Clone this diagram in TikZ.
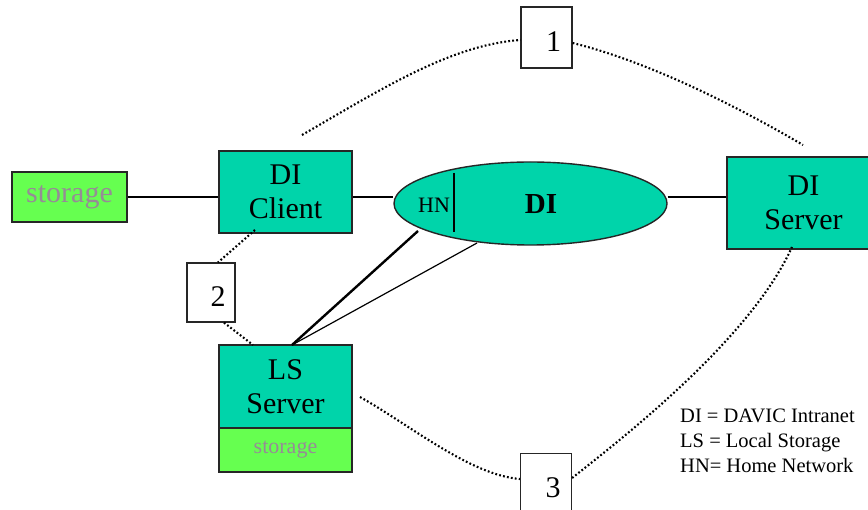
\documentclass[tikz,border=0pt]{standalone}
\usepackage{fontspec}
\setmainfont{Liberation Serif}
\usetikzlibrary{shapes.geometric,calc}
\definecolor{teal1}{RGB}{0,212,170}
\definecolor{green1}{RGB}{102,255,80}
\definecolor{stgray}{RGB}{150,140,150}
\tikzset{
  box/.style={draw=black!85,line width=1.4pt,fill=teal1,align=center,inner sep=0pt,
              font=\fontsize{30}{34}\selectfont},
  stbox/.style={draw=black!85,line width=1.4pt,fill=green1,inner sep=0pt,text=stgray},
  numbox/.style={draw=black!85,line width=1.2pt,fill=white,inner sep=0pt,
              font=\fontsize{30}{30}\selectfont,text height=28pt,text depth=0pt},
  dots/.style={line width=2.1pt,dash pattern=on 1.8pt off 2.2pt},
  link/.style={line width=2pt},
}
\begin{document}
\begin{tikzpicture}[x=1pt,y=-1pt]
\useasboundingbox (0,0) rectangle (868,510);
% nodes
\node[stbox,minimum width=115pt,minimum height=50pt,font=\fontsize{30}{30}\selectfont] (stL) at (69.5,197) {storage};
\node[box,minimum width=133pt,minimum height=82pt] (client) at (285.5,192) {DI\\Client};
\node[ellipse,draw=black!85,line width=1.4pt,fill=teal1,minimum width=273pt,minimum height=83pt,inner sep=0pt] (ell) at (530.5,203.5) {};
\node[box,minimum width=153pt,minimum height=92pt] (server) at (803.5,203) {DI\\Server};
\node[box,minimum width=133pt,minimum height=83pt] (ls) at (285.5,386.5) {LS\\Server};
\node[stbox,minimum width=133pt,minimum height=44pt,font=\fontsize{22}{22}\selectfont] (stLS) at (285.5,450) {storage};
\node[numbox,minimum width=51pt,minimum height=61pt] (b1) at (546.5,37.5) {\hspace{14pt}1};
\node[numbox,minimum width=48pt,minimum height=59pt] (b2) at (211,292.5) {\hspace{14pt}2};
\node[numbox,minimum width=51pt,minimum height=61pt] (b3) at (546,484) {\hspace{14pt}3};
% ellipse contents
\draw[line width=2.2pt] (454,173) -- (454,232);
\node[font=\fontsize{22}{22}\selectfont,inner sep=0pt] (hn) at (434,205) {HN};
\node[font=\fontsize{29}{29}\selectfont\bfseries,inner sep=0pt] (di) at (541,204) {DI};
% solid links
\draw[link] (stL.east) -- (stL.east -| client.west);
\draw[link] (client.east |- stL.east) -- (ell.west |- stL.east);
\draw[link] (ell.east |- stL.east) -- (server.west |- stL.east);
\coordinate (lsA) at (292,345);
\coordinate (e1) at (418,231);
\coordinate (e2) at (477,243);
\draw[line width=2.4pt] (lsA) -- (e1);
\draw[line width=1.2pt] (lsA) -- (e2);
% dotted paths
\coordinate (t1) at (302,135);
\coordinate (t2) at (803,145);
\coordinate (s3) at (360,397);
\coordinate (s4) at (792,247);
\coordinate (cB) at (255,230);
\coordinate (lsT) at (253,345);
\draw[dots] (t1) .. controls (380,90) and (450,45) .. (b1.west |- 0,40);
\draw[dots] (b1.east |- 0,43) .. controls (650,62) and (740,108) .. (t2);
\draw[dots] (s3) .. controls (410,425) and (470,475) .. (b3.west |- 0,479);
\draw[dots] (b3.east |- 0,478) .. controls (620,440) and (750,340) .. (s4);
\draw[dots] (cB) -- (b2.north -| 218,0);
\draw[dots] (b2.south -| 224,0) -- (lsT);
% legend
\node[anchor=west,align=left,inner sep=0pt,font=\fontsize{20.5}{25}\selectfont] (leg) at (680,441)
  {DI = DAVIC Intranet\\LS = Local Storage\\HN= Home Network};
\end{tikzpicture}
\end{document}
